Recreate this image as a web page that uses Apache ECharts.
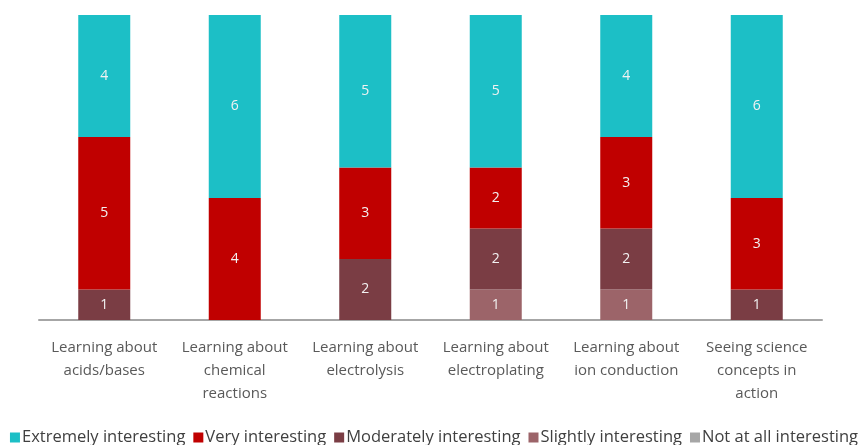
<!DOCTYPE html>
<html>
<head>
<meta charset="utf-8">
<script src="https://cdn.jsdelivr.net/npm/echarts@6/dist/echarts.min.js"></script>
<style>
  html, body { margin: 0; padding: 0; background: #ffffff; }
  #chart { width: 868px; height: 445px; }
</style>
</head>
<body>
<div id="chart"></div>
<script>
// Survey categories (x axis)
const categories = [
  'Learning about\nacids/bases',
  'Learning about\nchemical\nreactions',
  'Learning about\nelectrolysis',
  'Learning about\nelectroplating',
  'Learning about\nion conduction',
  'Seeing science\nconcepts in\naction'
];

// Response counts per interest level (null = no responses)
const extremelyInteresting = [4, 6, 5, 5, 4, 6];
const veryInteresting      = [5, 4, 3, 2, 3, 3];
const moderatelyInteresting = [1, null, 2, 2, 2, 1];
const slightlyInteresting  = [null, null, null, 1, 1, null];
const notAtAllInteresting  = [null, null, null, null, null, null];

const legendNames = [
  'Extremely interesting',
  'Very interesting',
  'Moderately interesting',
  'Slightly interesting',
  'Not at all interesting'
];

const fontFamily = "'Open Sans', sans-serif";

function stackSeries(name, data, color) {
  return {
    name: name,
    type: 'bar',
    stack: 'total',
    data: data,
    barWidth: 52,
    itemStyle: { color: color },
    label: {
      show: true,
      position: 'inside',
      color: '#f2f2f2',
      fontSize: 14,
      fontFamily: fontFamily,
      formatter: p => (p.value ? String(p.value) : '')
    }
  };
}

const chart = echarts.init(document.getElementById('chart'));
chart.setOption({
  animation: false,
  backgroundColor: '#ffffff',
  grid: { left: 39, right: 46, top: 15, bottom: 125 },
  legend: {
    data: legendNames,
    top: 429,
    left: 'center',
    padding: 0,
    itemWidth: 10,
    itemHeight: 10,
    itemGap: 8,
    icon: 'rect',
    textStyle: {
      color: '#404040',
      fontSize: 16.5,
      lineHeight: 16,
      fontFamily: fontFamily,
      padding: [0, 0, 0, -3]
    }
  },
  xAxis: {
    type: 'category',
    data: categories,
    axisLine: { lineStyle: { color: '#a6a6a6', width: 2 } },
    axisTick: { show: false },
    axisLabel: {
      color: '#595959',
      fontSize: 15,
      lineHeight: 23,
      margin: 16,
      interval: 0,
      fontFamily: fontFamily
    }
  },
  yAxis: {
    type: 'value',
    min: 0,
    max: 10,
    show: false,
    splitLine: { show: false }
  },
  series: [
    stackSeries('Not at all interesting', notAtAllInteresting, '#a6a6a6'),
    stackSeries('Slightly interesting', slightlyInteresting, '#9c6469'),
    stackSeries('Moderately interesting', moderatelyInteresting, '#7a3d44'),
    stackSeries('Very interesting', veryInteresting, '#c00000'),
    stackSeries('Extremely interesting', extremelyInteresting, '#1cbfc6')
  ]
});
</script>
</body>
</html>
